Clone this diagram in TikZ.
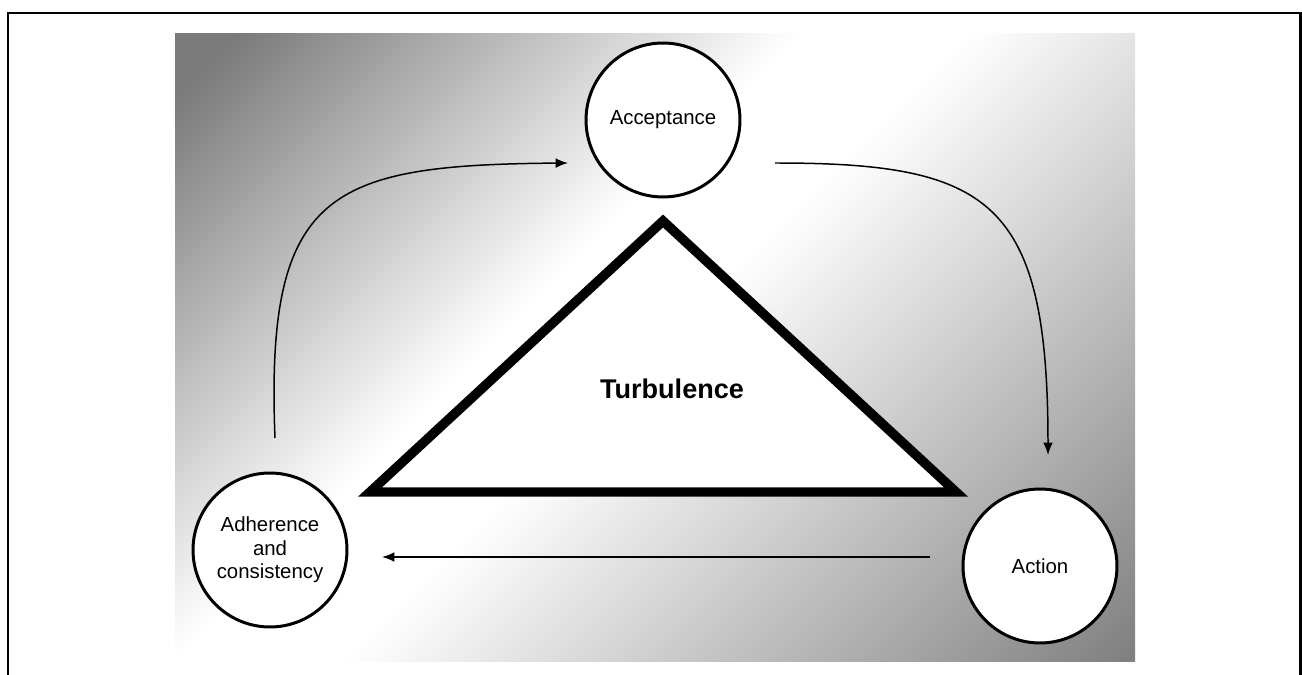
\documentclass[tikz,border=0pt]{standalone}
\usepackage{fontspec}
\setmainfont{Liberation Sans}
\usetikzlibrary{arrows.meta}
\pgfdeclarehorizontalshading{bgfade}{100bp}{color(0bp)=(black!52); color(24bp)=(black!52); color(44bp)=(white); color(50bp)=(white); color(78bp)=(black!50); color(100bp)=(black!50)}

\begin{document}
\begin{tikzpicture}
		% change cycle round the turbulence triangle
		[x=0.02cm,y=-0.02cm,
		stage/.style={circle,draw,line width=1.7pt,fill=white,minimum size=3.08cm,inner sep=1pt,align=center,font=\fontsize{11.6}{13.4}\selectfont},
		flow/.style={->,line width=0.85pt},
		>={Latex[length=7pt,width=5.5pt]}]
		\useasboundingbox (0,0) rectangle (1302,675);
		\clip (0,0) rectangle (1302,675);
		\draw[line width=1.7pt] (8,13) rectangle (1300,700);

		\begin{scope}
			\clip (175,34) rectangle (1135,661);
			\shade[shading=bgfade,shading angle=-45] (155,-152.5) rectangle (1155,847.5);
		\end{scope}

		\draw[line width=5.4pt,fill=white] (663,221) -- (956,492) -- (370,492) -- cycle;
		\node[font=\fontsize{15.4}{18}\selectfont\bfseries] (turb) at (672,389) {Turbulence};

		\node[stage] (acc) at (663,120) {Acceptance};
		\node[stage] (act) at (1040,566) {Action};
		\node[stage] (adh) at (270,550) {Adherence\\and\\consistency};

		\coordinate (adhout) at (275,438);
		\coordinate (accin) at (568,163);
		\coordinate (accout) at (775,163);
		\coordinate (actin) at (1048,455);
		\coordinate (actout) at (930,557);
		\coordinate (adhin) at (382,557);

		\draw[flow] (adhout) .. controls (265,190) and (330,165) .. (accin);
		\draw[flow] (accout) .. controls (990,163) and (1048,200) .. (actin);
		\draw[flow] (actout) -- (adhin);
	\end{tikzpicture}
\end{document}
